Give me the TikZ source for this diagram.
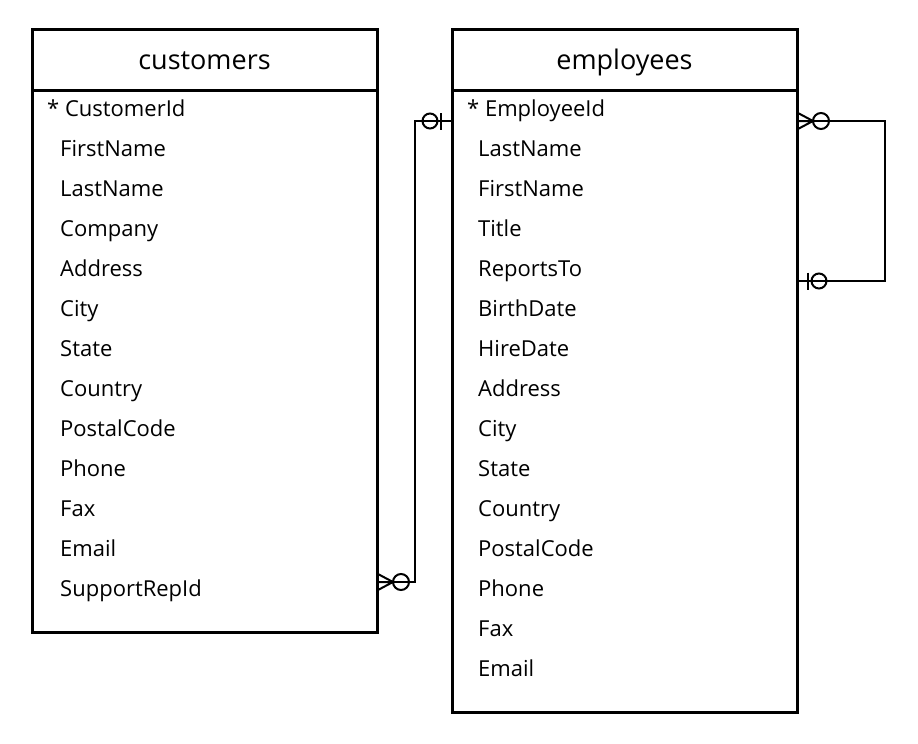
\documentclass[tikz,border=0pt]{standalone}
\usepackage{fontspec}
\setmainfont{Open Sans}
\usetikzlibrary{positioning,calc}

\begin{document}
\begin{tikzpicture}[x=1pt,y=-1pt,
            tablehead/.style = {draw, line width=3pt,
                        minimum width=345pt, minimum height=61pt,
                        inner sep=0pt, outer sep=0pt,
                        text height=24pt, text depth=5pt,
                        font=\fontsize{27}{32}\selectfont},
            tablebody/.style = {draw, line width=3pt,
                        minimum width=345pt,
                        inner sep=0pt, outer sep=0pt},
            field/.style = {anchor=base west, inner sep=0pt,
                        font=\fontsize{22}{26}\selectfont},
            rel/.style = {line width=2pt},
            manyopt/.pic = {\draw (0,-8.5) -- (16,0) -- (0,8.5) (0,0) -- (16,0);
                        \draw (24,0) circle (8pt);},
            oneopt/.pic = {\draw (11,-8.5) -- (11,8.5);
                        \draw (22,0) circle (7.5pt);}]
            \useasboundingbox (0,0) rectangle (918,744);
            % Table customers
            \node[tablehead] (custh) at (204.5,59.5) {customers};
            \node[tablebody, minimum height=542pt, below=0pt of custh] (cust) {};
            \node[field] (c-1) at ($(cust.north west)+(15,26)$) {* CustomerId};
            \foreach \f [count=\i from 2] in {FirstName,LastName,Company,Address,
                        City,State,Country,PostalCode,Phone,Fax,Email,SupportRepId}
                \node[field] (c-\i) at ($(cust.north west)+(28,40*\i-14)$) {\f};
            % Table employees
            \node[tablehead] (emph) at (624.5,59.5) {employees};
            \node[tablebody, minimum height=622pt, below=0pt of emph] (emp) {};
            \node[field] (e-1) at ($(emp.north west)+(15,26)$) {* EmployeeId};
            \foreach \f [count=\i from 2] in {LastName,FirstName,Title,ReportsTo,
                        BirthDate,HireDate,Address,City,State,Country,PostalCode,
                        Phone,Fax,Email}
                \node[field] (e-\i) at ($(emp.north west)+(26,40*\i-14)$) {\f};
            % Relationship ends
            \coordinate (cfk) at ([yshift=14pt]cust.east |- c-13.base);
            \coordinate (epk) at ([yshift=-5pt]emp.west |- e-1.base);
            \coordinate (emgr) at ([yshift=-5pt]emp.east |- e-1.base);
            \coordinate (erep) at ([yshift=-5pt]emp.east |- e-5.base);
            \pic[rel] at (cfk) {manyopt};
            \pic[rel, rotate=180] at (epk) {oneopt};
            \pic[rel] at (emgr) {manyopt};
            \pic[rel] at (erep) {oneopt};
            % Connectors
            \draw[rel] (cfk) -- ++(38,0) |- (epk);
            \draw[rel] (emgr) -- ++(88,0) |- (erep);
        \end{tikzpicture}
\end{document}
